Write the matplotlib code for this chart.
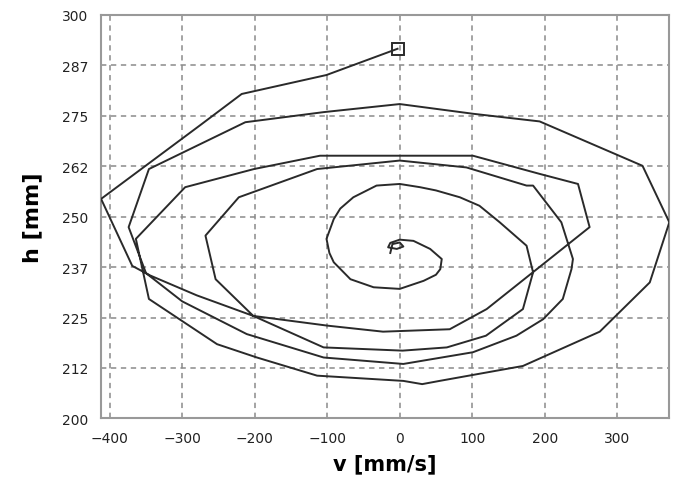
import matplotlib
matplotlib.use("Agg")
import matplotlib.pyplot as plt

# trajectory: velocity v [mm/s] and height h [mm]
v = [-3, -101, -218, -275, -412, -369, -344, -280, -202, -100, -23, 69, 120, 262,
     246, 193, 101, -110, -201, -296, -364, -346, -252, -197, -114, 5, 31, 55, 170, 276, 345, 372,
     335, 193, 101, 0, -105, -213, -346, -374, -350, -300, -211, -105, 5, 101, 161, 198, 225, 237, 239, 223, 184,
     175, 92, 0, -114, -222, -268, -254, -202, -105, 4, 65, 119, 170, 184, 175, 138, 110, 83, 50, 28, 0,
     -32, -64, -82, -91, -101, -97, -91, -68, -36, 0, 33, 50, 56, 58, 42, 19, 0, -13, -16, -4, 5, 0, -10, -13]
h = [291.6, 285.1, 280.4, 272.7, 254.4, 237.8, 235.4, 230.5, 225.4, 223.0, 221.5, 222.1, 227.1, 247.4,
     258.1, 260.6, 265.1, 265.1, 261.8, 257.3, 244.5, 229.6, 218.4, 215.1, 210.6, 209.3, 208.5, 209.3, 213.0, 221.5, 233.7, 248.6,
     262.6, 273.6, 275.5, 277.9, 275.9, 273.4, 261.8, 247.4, 236.0, 229.0, 220.9, 215.1, 213.5, 216.4, 220.5, 224.6, 229.6, 237.0, 239.5, 248.6, 257.7,
     257.7, 262.2, 263.9, 261.8, 254.8, 245.3, 234.5, 225.4, 217.6, 216.8, 217.6, 220.5, 227.1, 236.2, 242.8, 248.6, 252.7, 254.8, 256.5, 257.3, 258.1,
     257.7, 254.8, 252.0, 249.4, 244.5, 241.0, 238.7, 234.5, 232.5, 232.1, 234.1, 235.6, 237.0, 239.5, 242.0, 244.0, 244.3, 243.5, 242.4, 242.0, 242.6, 243.6, 243.2, 241.0]

x_ticks = [-400, -300, -200, -100, 0, 100, 200, 300]
y_ticks = [200, 212.5, 225, 237.5, 250, 262.5, 275, 287.5, 300]
y_tick_labels = ['200', '212', '225', '237', '250', '262', '275', '287', '300']

fig = plt.figure(figsize=(6.83, 4.81), dpi=100)
ax = fig.add_axes([0.148, 0.128, 0.832, 0.839])

ax.plot(v, h, color='#2a2a2a', linewidth=1.4, zorder=3)
ax.plot(v[0], h[0], marker='s', markersize=9, markerfacecolor='none',
        markeredgecolor='#2a2a2a', markeredgewidth=1.4, zorder=4)

ax.set_xlim(min(v), max(v))
ax.set_ylim(200, 300)
ax.set_xticks(x_ticks)
ax.set_yticks(y_ticks)
ax.set_yticklabels(y_tick_labels)
ax.tick_params(length=0, labelsize=10, pad=9, colors='#222222')

ax.grid(True, color='#8a8a8a', linestyle=(0, (3.5, 3)), linewidth=1.1)
for s in ax.spines.values():
    s.set_color('#999999')
    s.set_linewidth(1.5)

ax.set_xlabel('v [mm/s]', fontsize=15, fontweight='bold', labelpad=6)
ax.set_ylabel('h [mm]', fontsize=16, fontweight='bold', labelpad=14)

fig.savefig('out.png', dpi=100)
